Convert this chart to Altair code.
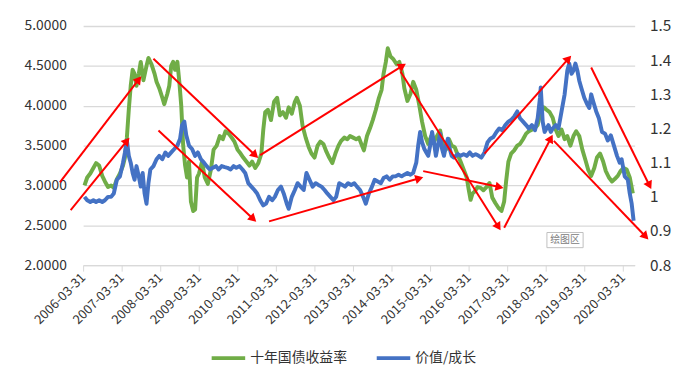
import math
import altair as alt
import pandas as pd

# ---- data (decimal years) ----
green_t = [2006.28, 2006.35, 2006.43, 2006.51, 2006.58, 2006.66, 2006.74, 2006.81, 2006.89, 2006.97,
           2007.04, 2007.12, 2007.20, 2007.28, 2007.33, 2007.38, 2007.43, 2007.48, 2007.53, 2007.58,
           2007.63, 2007.69, 2007.74, 2007.81, 2007.89, 2007.94, 2008.02, 2008.10, 2008.15, 2008.22,
           2008.30, 2008.35, 2008.43, 2008.48, 2008.53, 2008.58, 2008.63, 2008.69, 2008.74, 2008.79,
           2008.84, 2008.89, 2008.94, 2008.99, 2009.04, 2009.10, 2009.15, 2009.20, 2009.25, 2009.33,
           2009.40, 2009.48, 2009.56, 2009.63, 2009.71, 2009.79, 2009.87, 2009.94, 2010.02, 2010.10,
           2010.17, 2010.25, 2010.33, 2010.40, 2010.48, 2010.56, 2010.63, 2010.71, 2010.79, 2010.87,
           2010.92, 2010.97, 2011.04, 2011.12, 2011.20, 2011.28, 2011.35, 2011.43, 2011.51, 2011.58,
           2011.66, 2011.74, 2011.79, 2011.87, 2011.94, 2012.02, 2012.10, 2012.17, 2012.25, 2012.33,
           2012.40, 2012.48, 2012.56, 2012.63, 2012.71, 2012.79, 2012.87, 2012.94, 2013.02, 2013.10,
           2013.17, 2013.25, 2013.33, 2013.40, 2013.48, 2013.53, 2013.61, 2013.69, 2013.76, 2013.84,
           2013.92, 2013.99, 2014.04, 2014.10, 2014.15, 2014.22, 2014.30, 2014.38, 2014.45, 2014.53,
           2014.58, 2014.66, 2014.74, 2014.81, 2014.89, 2014.97, 2015.04, 2015.12, 2015.20, 2015.28,
           2015.35, 2015.43, 2015.51, 2015.58, 2015.66, 2015.74, 2015.81, 2015.89, 2015.97, 2016.04,
           2016.12, 2016.20, 2016.25, 2016.30, 2016.35, 2016.40, 2016.48, 2016.56, 2016.63, 2016.71,
           2016.79, 2016.86, 2016.94, 2017.02, 2017.10, 2017.17, 2017.22, 2017.28, 2017.35, 2017.43,
           2017.51, 2017.58, 2017.66, 2017.74, 2017.81, 2017.89, 2017.97, 2018.04, 2018.12, 2018.20,
           2018.27, 2018.35, 2018.43, 2018.51, 2018.58, 2018.66, 2018.74, 2018.81, 2018.89, 2018.97,
           2019.04, 2019.12, 2019.20, 2019.28, 2019.35, 2019.43, 2019.51, 2019.58, 2019.66, 2019.74,
           2019.81, 2019.89, 2019.97, 2020.04, 2020.12, 2020.19, 2020.27, 2020.35, 2020.43, 2020.51]
green_v = [3.00, 3.10, 3.15, 3.22, 3.28, 3.25, 3.12, 3.05, 2.98, 3.00,
           2.97, 3.08, 3.15, 3.25, 3.35, 3.60, 3.95, 4.25, 4.45, 4.40,
           4.25, 4.40, 4.55, 4.32, 4.50, 4.60, 4.52, 4.40, 4.30, 4.22,
           4.10, 4.02, 4.15, 4.25, 4.50, 4.55, 4.45, 4.55, 4.30, 4.00,
           3.50, 3.25, 3.10, 3.30, 2.80, 2.68, 2.70, 3.10, 3.15, 3.30,
           3.10, 3.02, 3.20, 3.45, 3.50, 3.62, 3.58, 3.68, 3.65, 3.60,
           3.55, 3.45, 3.40, 3.35, 3.30, 3.25, 3.30, 3.22, 3.28, 3.40,
           3.70, 3.92, 3.95, 3.82, 4.05, 4.10, 3.88, 3.92, 3.85, 3.98,
           3.90, 4.05, 4.10, 4.00, 3.75, 3.60, 3.48, 3.40, 3.35, 3.50,
           3.55, 3.52, 3.42, 3.35, 3.28, 3.40, 3.50, 3.56, 3.60, 3.58,
           3.62, 3.60, 3.58, 3.60, 3.50, 3.44, 3.62, 3.72, 3.82, 3.95,
           4.10, 4.20, 4.40, 4.55, 4.72, 4.62, 4.58, 4.52, 4.55, 4.40,
           4.22, 4.06, 4.15, 4.30, 4.20, 4.00, 3.80, 3.62, 3.52, 3.62,
           3.55, 3.62, 3.69, 3.52, 3.45, 3.58, 3.50, 3.48, 3.38, 3.30,
           3.20, 3.10, 2.95, 2.82, 2.90, 2.92, 2.98, 2.97, 2.94, 2.98,
           3.03, 2.85, 2.78, 2.72, 2.68, 2.80, 3.05, 3.30, 3.40, 3.44,
           3.50, 3.52, 3.58, 3.65, 3.68, 3.70, 3.72, 3.76, 3.92, 3.98,
           3.95, 3.92, 3.85, 3.70, 3.62, 3.70, 3.58, 3.62, 3.50, 3.62,
           3.68, 3.62, 3.45, 3.32, 3.20, 3.12, 3.22, 3.35, 3.40, 3.30,
           3.18, 3.10, 3.05, 3.08, 3.12, 3.18, 3.22, 3.20, 3.10, 2.90]

blue_t = [2006.28, 2006.35, 2006.43, 2006.51, 2006.58, 2006.66, 2006.74, 2006.81, 2006.89, 2006.97,
          2007.04, 2007.12, 2007.20, 2007.28, 2007.33, 2007.38, 2007.43, 2007.48, 2007.53, 2007.58,
          2007.63, 2007.69, 2007.74, 2007.79, 2007.84, 2007.89, 2007.94, 2007.99, 2008.07, 2008.15,
          2008.22, 2008.30, 2008.38, 2008.45, 2008.53, 2008.61, 2008.69, 2008.76, 2008.81, 2008.87,
          2008.92, 2008.99, 2009.07, 2009.15, 2009.22, 2009.30, 2009.38, 2009.45, 2009.53, 2009.61,
          2009.69, 2009.76, 2009.84, 2009.92, 2009.99, 2010.07, 2010.15, 2010.22, 2010.30, 2010.38,
          2010.45, 2010.53, 2010.61, 2010.69, 2010.76, 2010.84, 2010.92, 2010.99, 2011.07, 2011.15,
          2011.22, 2011.30, 2011.38, 2011.45, 2011.53, 2011.58, 2011.66, 2011.74, 2011.81, 2011.89,
          2011.97, 2012.04, 2012.12, 2012.20, 2012.28, 2012.35, 2012.43, 2012.51, 2012.58, 2012.66,
          2012.74, 2012.81, 2012.89, 2012.97, 2013.04, 2013.12, 2013.20, 2013.28, 2013.35, 2013.43,
          2013.51, 2013.58, 2013.66, 2013.74, 2013.81, 2013.89, 2013.97, 2014.04, 2014.12, 2014.20,
          2014.28, 2014.35, 2014.43, 2014.51, 2014.58, 2014.66, 2014.74, 2014.81, 2014.89, 2014.94,
          2014.99, 2015.04, 2015.10, 2015.15, 2015.20, 2015.25, 2015.30, 2015.35, 2015.40, 2015.45,
          2015.51, 2015.56, 2015.61, 2015.66, 2015.71, 2015.76, 2015.81, 2015.87, 2015.92, 2015.97,
          2016.04, 2016.12, 2016.20, 2016.28, 2016.35, 2016.43, 2016.51, 2016.58, 2016.66, 2016.74,
          2016.81, 2016.89, 2016.97, 2017.04, 2017.12, 2017.20, 2017.28, 2017.35, 2017.43, 2017.51,
          2017.58, 2017.66, 2017.74, 2017.81, 2017.89, 2017.97, 2018.04, 2018.10, 2018.12, 2018.17,
          2018.22, 2018.27, 2018.32, 2018.38, 2018.43, 2018.51, 2018.58, 2018.66, 2018.74, 2018.81,
          2018.86, 2018.92, 2018.97, 2019.02, 2019.07, 2019.12, 2019.17, 2019.25, 2019.33, 2019.38,
          2019.43, 2019.48, 2019.56, 2019.63, 2019.71, 2019.79, 2019.86, 2019.94, 2020.02, 2020.10,
          2020.17, 2020.22, 2020.30, 2020.38, 2020.43, 2020.48, 2020.53]
blue_v = [1.00, 0.99, 0.985, 0.99, 0.985, 0.99, 0.985, 0.99, 1.00, 1.00,
          1.01, 1.05, 1.06, 1.10, 1.13, 1.165, 1.12, 1.10, 1.07, 1.05,
          1.09, 1.06, 1.03, 1.07, 1.01, 0.98, 1.04, 1.08, 1.09, 1.11,
          1.12, 1.11, 1.13, 1.12, 1.13, 1.14, 1.15, 1.17, 1.21, 1.22,
          1.18, 1.15, 1.14, 1.12, 1.13, 1.11, 1.10, 1.09, 1.08, 1.085,
          1.09, 1.08, 1.09, 1.087, 1.085, 1.08, 1.09, 1.085, 1.09, 1.08,
          1.07, 1.04, 1.03, 1.02, 1.01, 0.99, 0.975, 0.98, 1.00, 0.99,
          1.00, 1.02, 1.03, 1.01, 0.98, 0.965, 1.00, 1.02, 1.04, 1.03,
          1.02, 1.07, 1.05, 1.03, 1.04, 1.035, 1.03, 1.02, 1.01, 1.00,
          0.99, 1.00, 1.04, 1.035, 1.03, 1.04, 1.035, 1.04, 1.03, 1.02,
          1.00, 0.98, 1.01, 1.03, 1.05, 1.045, 1.04, 1.055, 1.06, 1.05,
          1.06, 1.06, 1.065, 1.06, 1.065, 1.07, 1.065, 1.07, 1.10, 1.15,
          1.19, 1.16, 1.14, 1.13, 1.12, 1.15, 1.19, 1.16, 1.12, 1.15,
          1.185, 1.14, 1.12, 1.15, 1.17, 1.14, 1.12, 1.115, 1.12, 1.125,
          1.12, 1.125, 1.12, 1.13, 1.12, 1.125, 1.12, 1.115, 1.13, 1.16,
          1.17, 1.175, 1.19, 1.20, 1.195, 1.21, 1.22, 1.225, 1.235, 1.25,
          1.23, 1.22, 1.21, 1.20, 1.21, 1.195, 1.23, 1.29, 1.32, 1.22,
          1.19, 1.20, 1.21, 1.19, 1.20, 1.21, 1.20, 1.25, 1.30, 1.37,
          1.39, 1.36, 1.37, 1.39, 1.37, 1.34, 1.32, 1.29, 1.27, 1.26,
          1.30, 1.28, 1.25, 1.23, 1.19, 1.185, 1.165, 1.18, 1.15, 1.12,
          1.10, 1.11, 1.06, 1.05, 1.01, 0.98, 0.93]

series_names = ["十年国债收益率", "价值/成长"]
series_colors = ["#70AD47", "#4472C4"]
tick_years = list(range(2006, 2021))
left_ticks = [2.0, 2.5, 3.0, 3.5, 4.0, 4.5, 5.0]
right_ticks = [0.8, 0.9, 1.0, 1.1, 1.2, 1.3, 1.4, 1.5]

# red arrows (start / end in date + left-axis value)
arrow_t0 = [2005.64, 2005.92, 2008.07, 2008.20, 2010.84, 2011.07, 2014.48, 2015.07, 2016.66, 2017.17, 2018.46, 2019.43]
arrow_v0 = [3.04, 2.69, 4.59, 3.69, 3.38, 2.55, 4.43, 3.18, 3.40, 2.47, 3.56, 4.48]
arrow_t1 = [2007.69, 2007.38, 2010.71, 2010.66, 2014.53, 2014.97, 2017.02, 2017.05, 2018.84, 2018.38, 2020.84, 2020.94]
arrow_v1 = [4.33, 3.56, 3.38, 2.58, 4.50, 3.09, 2.48, 2.98, 4.59, 3.59, 2.36, 3.00]

box_t = [2018.28, 2019.22]
box_v = [2.41, 2.22]
box_label = "绘图区"


def to_ts(t):
    y = int(math.floor(t))
    start = pd.Timestamp(year=y, month=1, day=1)
    end = pd.Timestamp(year=y + 1, month=1, day=1)
    return (start + (end - start) * (t - y)).strftime("%Y-%m-%dT%H:%M:%S")


W, H = 558, 242
d_start = pd.Timestamp(2006, 3, 31)
d_end = pd.Timestamp(2020, 7, 23)
px_per_year = W / ((d_end - d_start).days / 365.25)
px_per_unit = H / (5.0 - 2.0)

FONT = "Noto Sans CJK SC"
x_scale = alt.Scale(domain=[alt.DateTime(year=2006, month=3, date=31),
                            alt.DateTime(year=2020, month=7, date=23)], type="time")

green_df = pd.DataFrame({"date": [to_ts(t) for t in green_t], "v": green_v, "s": series_names[0]})
blue_df = pd.DataFrame({"date": [to_ts(t) for t in blue_t], "v": blue_v, "s": series_names[1]})

ang = []
for a, b, c, d in zip(arrow_t0, arrow_v0, arrow_t1, arrow_v1):
    dx = (c - a) * px_per_year
    dy = (d - b) * px_per_unit
    ang.append(math.degrees(math.atan2(dx, dy)) % 360)
arrow_df = pd.DataFrame({
    "t0": [to_ts(t) for t in arrow_t0], "v0": arrow_v0,
    "t1": [to_ts(t) for t in arrow_t1], "v1": arrow_v1, "ang": ang,
})
box_df = pd.DataFrame({"t0": [to_ts(box_t[0])], "t1": [to_ts(box_t[1])],
                       "v0": [box_v[0]], "v1": [box_v[1]],
                       "tm": [to_ts(sum(box_t) / 2)], "vm": [sum(box_v) / 2],
                       "label": [box_label]})

color = alt.Color("s:N", scale=alt.Scale(domain=series_names, range=series_colors),
                  legend=alt.Legend(orient="none", legendX=128, legendY=317, direction="horizontal",
                                    title=None, symbolType="stroke", symbolSize=1150,
                                    symbolStrokeWidth=4, labelFont=FONT, labelFontSize=14,
                                    labelColor="#333333", labelOffset=3, columnPadding=22))

x_axis = alt.Axis(values=[alt.DateTime(year=y, month=3, date=31) for y in tick_years],
                  format="%Y-%m-%d", labelAngle=-45, labelAlign="right", labelBaseline="middle",
                  labelFont=FONT, labelFontSize=13, labelColor="#333333", labelPadding=4,
                  labelOverlap=False, labelBound=False, labelFlush=False,
                  grid=False, domainColor="#D9D9D9", tickColor="#D9D9D9", tickSize=6, title=None)

left_scale = alt.Scale(domain=[2.0, 5.0], nice=False, zero=False)
right_scale = alt.Scale(domain=[0.8, 1.5], nice=False, zero=False)

green = alt.Chart(green_df).mark_line(strokeWidth=4, strokeJoin="round").encode(
    x=alt.X("date:T", scale=x_scale, axis=x_axis),
    y=alt.Y("v:Q", scale=left_scale,
            axis=alt.Axis(values=left_ticks, format=".4f", orient="left", grid=True,
                          gridColor="#D9D9D9", gridWidth=1.3, domain=False, ticks=False,
                          labelFont=FONT, labelFontSize=14, labelColor="#333333",
                          labelPadding=17, title=None)),
    color=color,
)

blue = alt.Chart(blue_df).mark_line(strokeWidth=4, strokeJoin="round").encode(
    x=alt.X("date:T", scale=x_scale, axis=x_axis),
    y=alt.Y("v:Q", scale=right_scale,
            axis=alt.Axis(values=right_ticks, format=".1~f", orient="right", grid=False,
                          domain=False, ticks=False, labelFont=FONT, labelFontSize=15.5,
                          labelColor="#333333", labelPadding=15, title=None)),
    color=color,
)

arrow_lines = alt.Chart(arrow_df).mark_rule(color="#FF0000", strokeWidth=2).encode(
    x=alt.X("t0:T", scale=x_scale, axis=x_axis), x2="t1:T",
    y=alt.Y("v0:Q", scale=left_scale, axis=None), y2="v1:Q",
)
arrow_heads = alt.Chart(arrow_df).mark_point(shape="triangle-up", filled=True, size=90,
                                             color="#FF0000", opacity=1).encode(
    x=alt.X("t1:T", scale=x_scale, axis=x_axis),
    y=alt.Y("v1:Q", scale=left_scale, axis=None),
    angle=alt.Angle("ang:Q", scale=None),
)

box = alt.Chart(box_df).mark_rect(fill="white", stroke="#BFBFBF", strokeWidth=1).encode(
    x=alt.X("t0:T", scale=x_scale, axis=x_axis), x2="t1:T",
    y=alt.Y("v0:Q", scale=left_scale, axis=None), y2="v1:Q",
)
box_text = alt.Chart(box_df).mark_text(font=FONT, fontSize=10, color="#808080").encode(
    x=alt.X("tm:T", scale=x_scale, axis=x_axis),
    y=alt.Y("vm:Q", scale=left_scale, axis=None),
    text="label:N",
)

chart = alt.layer(green, blue, arrow_lines, arrow_heads, box, box_text).resolve_scale(
    y="independent"
).properties(
    width=W, height=H,
    padding={"left": 76, "top": 16, "right": 58, "bottom": 120},
    autosize=alt.AutoSizeParams(type="none"),
).configure_view(stroke=None).configure_axisX(labelOverlap=False)

chart.save("out.html", embed_options={"renderer": "svg", "actions": False})
